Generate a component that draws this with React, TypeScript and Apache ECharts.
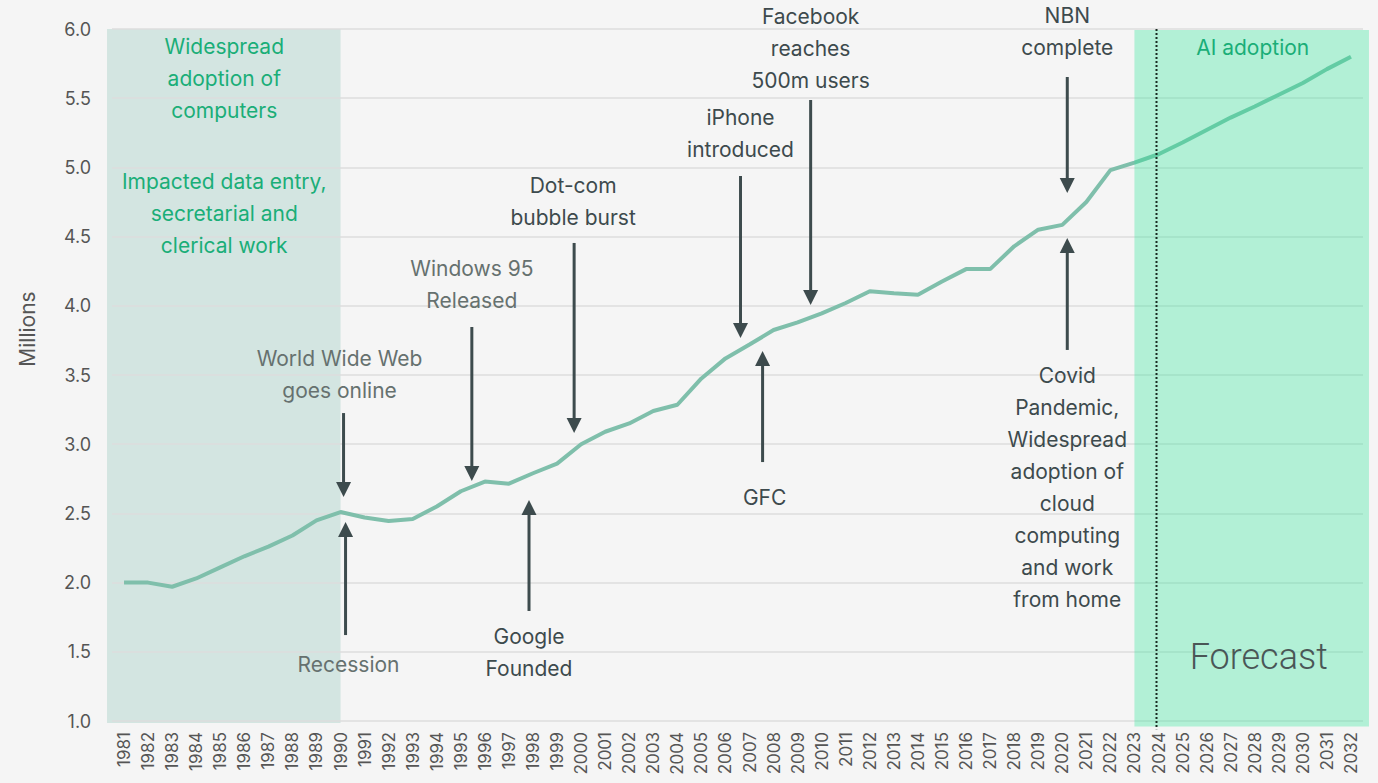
import React, { useEffect, useRef } from "react";
import * as echarts from "echarts";

const years = [
  "1981","1982","1983","1984","1985","1986","1987","1988","1989","1990",
  "1991","1992","1993","1994","1995","1996","1997","1998","1999","2000",
  "2001","2002","2003","2004","2005","2006","2007","2008","2009","2010",
  "2011","2012","2013","2014","2015","2016","2017","2018","2019","2020",
  "2021","2022","2023","2024","2025","2026","2027","2028","2029","2030",
  "2031","2032",
];

const employment = [
  2.0, 2.0, 1.97, 2.03, 2.11, 2.19, 2.26, 2.34, 2.45, 2.51,
  2.47, 2.445, 2.46, 2.55, 2.66, 2.73, 2.715, 2.79, 2.86, 3.0,
  3.09, 3.15, 3.24, 3.285, 3.475, 3.62, 3.72, 3.825, 3.88, 3.945,
  4.02, 4.105, 4.09, 4.08, 4.175, 4.265, 4.265, 4.43, 4.55, 4.585,
  4.75, 4.98, 5.035, 5.095, 5.18, 5.27, 5.36, 5.44, 5.525, 5.61,
  5.71, 5.8,
];

const yTicks = { min: 1, max: 6, interval: 0.5 };

// annotation texts: year anchor, pixel nudge, value of first line centre, text, tone
const notes = [
  { year: "1990", dx: -1, v: 3.616, text: "World Wide Web\ngoes online", tone: "light" },
  { year: "1990", dx: 8, v: 1.405, text: "Recession", tone: "light" },
  { year: "1995", dx: 11, v: 4.273, text: "Windows 95\nReleased", tone: "light" },
  { year: "2000", dx: -8, v: 4.866, text: "Dot-com\nbubble burst", tone: "dark" },
  { year: "1998", dx: -4, v: 1.614, text: "Google\nFounded", tone: "dark" },
  { year: "2007", dx: -9, v: 5.357, text: "iPhone\nintroduced", tone: "dark" },
  { year: "2008", dx: -9, v: 2.618, text: "GFC", tone: "dark" },
  { year: "2009", dx: 13, v: 6.087, text: "Facebook\nreaches\n500m users", tone: "dark" },
  { year: "2020", dx: 5, v: 6.094, text: "NBN\ncomplete", tone: "dark" },
  {
    year: "2020", dx: 5, v: 3.493,
    text: "Covid\nPandemic,\nWidespread\nadoption of\ncloud\ncomputing\nand work\nfrom home",
    tone: "dark",
  },
  { year: "1985", dx: 4, v: 5.877, text: "Widespread\nadoption of\ncomputers", tone: "green" },
  { year: "1985", dx: 4, v: 4.895, text: "Impacted data entry,\nsecretarial and\nclerical work", tone: "green" },
];

// arrows: from value -> to value (tip)
const arrows = [
  { year: "1990", dx: 3, from: 3.225, to: 2.618 },
  { year: "1990", dx: 5, from: 1.621, to: 2.438 },
  { year: "1995", dx: 11, from: 3.847, to: 2.734 },
  { year: "2000", dx: -7, from: 4.454, to: 3.081 },
  { year: "1998", dx: -4, from: 1.795, to: 2.597 },
  { year: "2007", dx: -9, from: 4.938, to: 3.767 },
  { year: "2008", dx: -11, from: 2.871, to: 3.673 },
  { year: "2009", dx: 13, from: 5.487, to: 4.006 },
  { year: "2020", dx: 5, from: 5.653, to: 4.815 },
  { year: "2020", dx: 5, from: 3.681, to: 4.49 },
];

const FONT = "Inter, 'Noto Sans', sans-serif";
const toneColor: Record<string, string> = {
  light: "#66716f",
  dark: "#3d4a4d",
  green: "#1aae78",
};

export default function App() {
  const ref = useRef<HTMLDivElement>(null);

  useEffect(() => {
    document.body.style.margin = "0";
    document.body.style.background = "#f5f5f5";
    const chart = echarts.init(ref.current!, null, { renderer: "svg" });
    chart.setOption({
      animation: false,
      backgroundColor: "#f5f5f5",
      grid: { left: 112, right: 15, top: 29, bottom: 62 },
      xAxis: {
        type: "category",
        data: years,
        boundaryGap: true,
        axisLine: { show: false },
        axisTick: { show: false },
        axisLabel: {
          rotate: 90,
          interval: 0,
          fontSize: 17,
          color: "#555",
          fontFamily: FONT,
          margin: 11,
        },
      },
      yAxis: {
        type: "value",
        min: yTicks.min,
        max: yTicks.max,
        interval: yTicks.interval,
        axisLabel: {
          fontSize: 18,
          color: "#555",
          fontFamily: FONT,
          margin: 21,
          formatter: (v: number) => v.toFixed(1),
        },
        splitLine: { lineStyle: { color: "#dcdcdc", width: 1.5 } },
      },
      series: [
        {
          type: "line",
          data: employment,
          symbol: "none",
          lineStyle: { color: "#7fbfab", width: 4 },
          z: 2,
        },
      ],
    });

    const px = (year: string, dx: number) =>
      (chart.convertToPixel({ xAxisIndex: 0 }, year) as number) + dx;
    const py = (v: number) => chart.convertToPixel({ yAxisIndex: 0 }, v) as number;

    const g: any[] = [];
    const r1x0 = px(years[0], -17);
    const r1x1 = px("1990", 0);
    g.push({
      type: "rect",
      z: -10,
      shape: { x: r1x0, y: py(6), width: r1x1 - r1x0, height: py(1) - py(6) + 2 },
      style: { fill: "#d3e5e1" },
    });
    const r2x0 = px("2023", 0);
    const r2x1 = px(years[years.length - 1], 18);
    g.push({
      type: "rect",
      z: 10,
      shape: { x: r2x0, y: py(6) + 1, width: r2x1 - r2x0, height: py(0.96) - py(6) - 1 },
      style: { fill: "rgba(41,230,152,0.33)" },
    });
    const dx24 = px("2024", -2);
    g.push({
      type: "line",
      z: 11,
      shape: { x1: dx24, y1: py(6), x2: dx24, y2: py(0.94) },
      style: { stroke: "#1a2a22", lineWidth: 2, lineDash: [2, 2] },
    });

    // y-axis title
    g.push({
      type: "text",
      z: 12,
      x: 27,
      y: py(3.832),
      rotation: Math.PI / 2,
      style: {
        text: "Millions",
        x: 0,
        y: 0,
        textAlign: "center",
        textVerticalAlign: "middle",
        fill: "#555",
        font: `21px ${FONT}`,
      },
    });

    notes.forEach((n) => {
      g.push({
        type: "text",
        z: 12,
        style: {
          text: n.text,
          x: px(n.year, n.dx),
          y: py(n.v) - 16,
          textAlign: "center",
          textVerticalAlign: "top",
          fill: toneColor[n.tone],
          font: `21px ${FONT}`,
          lineHeight: 32,
        },
      });
    });
    g.push({
      type: "text",
      z: 12,
      style: {
        text: "AI adoption",
        x: px("2028", -2),
        y: py(5.863),
        textAlign: "center",
        textVerticalAlign: "middle",
        fill: toneColor.green,
        font: `21px ${FONT}`,
      },
    });
    g.push({
      type: "text",
      z: 12,
      style: {
        text: "Forecast",
        x: px("2028", 4),
        y: py(1.462),
        textAlign: "center",
        textVerticalAlign: "middle",
        fill: "#4a5656",
        font: `300 36px Roboto, sans-serif`,
      },
    });

    arrows.forEach((a) => {
      const x = px(a.year, a.dx);
      const y0 = py(a.from);
      const y1 = py(a.to);
      const dir = y1 > y0 ? 1 : -1;
      const head = 15;
      g.push({
        type: "line",
        z: 12,
        shape: { x1: x, y1: y0, x2: x, y2: y1 - dir * (head - 2) },
        style: { stroke: "#3d4b4d", lineWidth: 3 },
      });
      g.push({
        type: "polygon",
        z: 12,
        shape: {
          points: [
            [x - 7.5, y1 - dir * head],
            [x + 7.5, y1 - dir * head],
            [x, y1],
          ],
        },
        style: { fill: "#3d4b4d" },
      });
    });

    chart.setOption({ graphic: g });
    return () => chart.dispose();
  }, []);

  return <div ref={ref} style={{ width: 1378, height: 783 }} />;
}
